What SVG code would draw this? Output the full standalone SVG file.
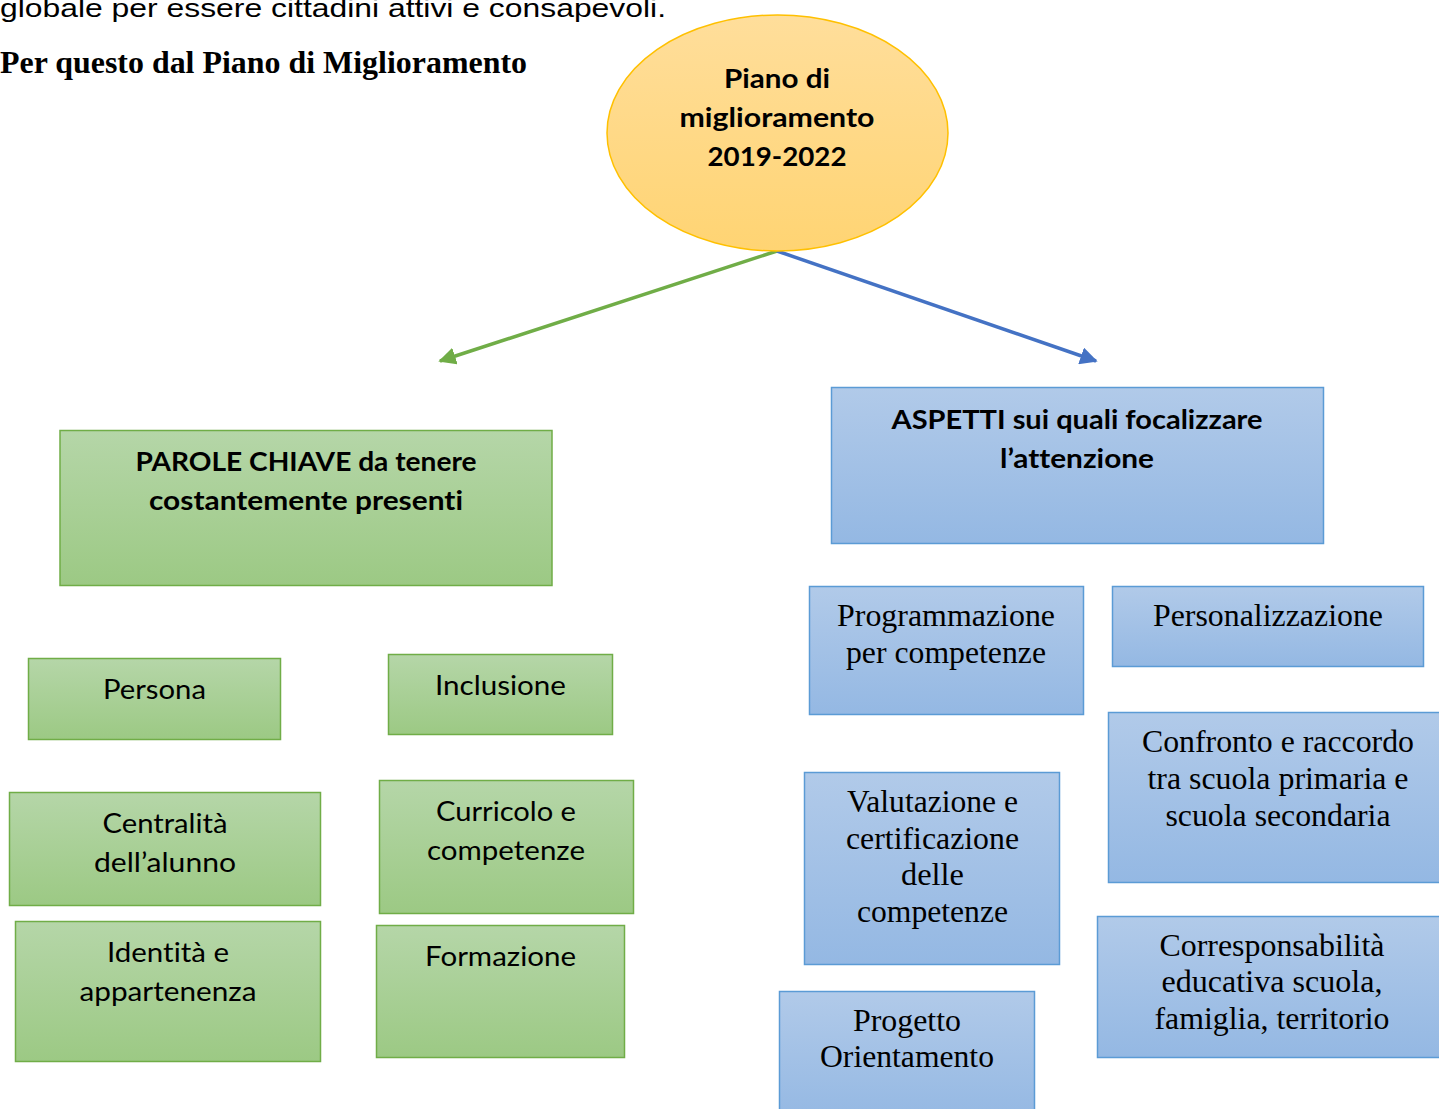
<svg xmlns="http://www.w3.org/2000/svg" width="1439" height="1109" viewBox="0 0 1439 1109">
<style>
.g{fill:url(#gg);stroke:#70AD47;stroke-width:1.5}
.b{fill:url(#bg);stroke:#5B9BD5;stroke-width:1.5}
.cal{font-family:Lato,"Open Sans","Liberation Sans",sans-serif;font-size:27px;fill:#000;text-anchor:middle;font-variant-ligatures:none}
.calb{font-family:Lato,"Open Sans","Liberation Sans",sans-serif;font-size:27px;font-weight:bold;fill:#000;text-anchor:middle;font-variant-ligatures:none}
.tnr{font-family:"Liberation Serif",serif;font-size:31px;fill:#000;text-anchor:middle}
</style>
<defs>
<linearGradient id="gg" x1="0" y1="0" x2="0" y2="1"><stop offset="0" stop-color="#B5D6A8"/><stop offset="1" stop-color="#9CC984"/></linearGradient>
<linearGradient id="bg" x1="0" y1="0" x2="0" y2="1"><stop offset="0" stop-color="#B1CAE9"/><stop offset="1" stop-color="#94B8E3"/></linearGradient>
<linearGradient id="yg" x1="0" y1="0" x2="0" y2="1"><stop offset="0" stop-color="#FFDE9B"/><stop offset="1" stop-color="#FFD473"/></linearGradient>
<marker id="ag" viewBox="0 0 10 10" refX="9" refY="5" markerWidth="5" markerHeight="5" orient="auto" markerUnits="strokeWidth"><path d="M0,0 L10,5 L0,10 z" fill="#70AD47"/></marker>
<marker id="ab" viewBox="0 0 10 10" refX="9" refY="5" markerWidth="5" markerHeight="5" orient="auto" markerUnits="strokeWidth"><path d="M0,0 L10,5 L0,10 z" fill="#4472C4"/></marker>
</defs>

<g id="header">
<text x="0" y="17" font-family="'Liberation Sans',Arial,sans-serif" font-size="26" textLength="666" lengthAdjust="spacingAndGlyphs">globale per essere cittadini attivi e consapevoli.</text>
<text x="0" y="73" font-family="'Liberation Serif',serif" font-size="31" font-weight="bold" textLength="527" lengthAdjust="spacingAndGlyphs">Per questo dal Piano di Miglioramento</text>
</g>

<g id="connectors" fill="none" stroke-width="3.5">
<line x1="777" y1="251" x2="440" y2="361" stroke="#70AD47" marker-end="url(#ag)"/>
<line x1="777" y1="251" x2="1096" y2="361" stroke="#4472C4" marker-end="url(#ab)"/>
</g>

<g id="piano">
<ellipse cx="777.5" cy="133" rx="170.5" ry="118" fill="url(#yg)" stroke="#FFC000" stroke-width="1.5"/>
<text class="calb" x="777" y="88" textLength="106" lengthAdjust="spacingAndGlyphs">Piano di</text>
<text class="calb" x="777" y="127" textLength="195" lengthAdjust="spacingAndGlyphs">miglioramento</text>
<text class="calb" x="777" y="166" textLength="139" lengthAdjust="spacingAndGlyphs">2019-2022</text>
</g>

<g id="parole">
<rect class="g" x="60" y="430.5" width="492" height="155"/>
<text class="calb" x="306" y="471" textLength="341" lengthAdjust="spacingAndGlyphs">PAROLE CHIAVE da tenere</text>
<text class="calb" x="306" y="510" textLength="314" lengthAdjust="spacingAndGlyphs">costantemente presenti</text>
</g>

<g id="aspetti">
<rect class="b" x="831.5" y="387.5" width="492" height="156"/>
<text class="calb" x="1077" y="429" textLength="371" lengthAdjust="spacingAndGlyphs">ASPETTI sui quali focalizzare</text>
<text class="calb" x="1077" y="468" textLength="154" lengthAdjust="spacingAndGlyphs">l’attenzione</text>
</g>

<g id="persona">
<rect class="g" x="28.5" y="658.5" width="252" height="81"/>
<text class="cal" x="154.5" y="699" textLength="103" lengthAdjust="spacingAndGlyphs">Persona</text>
</g>

<g id="inclusione">
<rect class="g" x="388.5" y="654.5" width="224" height="80"/>
<text class="cal" x="500.5" y="695" textLength="131" lengthAdjust="spacingAndGlyphs">Inclusione</text>
</g>

<g id="centralita">
<rect class="g" x="9.5" y="792.5" width="311" height="113"/>
<text class="cal" x="165" y="833" textLength="125" lengthAdjust="spacingAndGlyphs">Centralità</text>
<text class="cal" x="165" y="872" textLength="142" lengthAdjust="spacingAndGlyphs">dell’alunno</text>
</g>

<g id="curricolo">
<rect class="g" x="379.5" y="780.5" width="254" height="133"/>
<text class="cal" x="506" y="821" textLength="140" lengthAdjust="spacingAndGlyphs">Curricolo e</text>
<text class="cal" x="506" y="860" textLength="158" lengthAdjust="spacingAndGlyphs">competenze</text>
</g>

<g id="identita">
<rect class="g" x="15.5" y="921.5" width="305" height="140"/>
<text class="cal" x="168" y="962" textLength="122" lengthAdjust="spacingAndGlyphs">Identità e</text>
<text class="cal" x="168" y="1001" textLength="177" lengthAdjust="spacingAndGlyphs">appartenenza</text>
</g>

<g id="formazione">
<rect class="g" x="376.5" y="925.5" width="248" height="132"/>
<text class="cal" x="500.5" y="966" textLength="151" lengthAdjust="spacingAndGlyphs">Formazione</text>
</g>

<g id="programmazione">
<rect class="b" x="809.5" y="586.5" width="274" height="128"/>
<text class="tnr" x="946" y="626" textLength="218" lengthAdjust="spacingAndGlyphs">Programmazione</text>
<text class="tnr" x="946" y="663" textLength="200" lengthAdjust="spacingAndGlyphs">per competenze</text>
</g>

<g id="personalizzazione">
<rect class="b" x="1112.5" y="586.5" width="311" height="80"/>
<text class="tnr" x="1268" y="626" textLength="230" lengthAdjust="spacingAndGlyphs">Personalizzazione</text>
</g>

<g id="confronto">
<rect class="b" x="1108.5" y="712.5" width="340" height="170"/>
<text class="tnr" x="1278" y="752" textLength="272" lengthAdjust="spacingAndGlyphs">Confronto e raccordo</text>
<text class="tnr" x="1278" y="789" textLength="261" lengthAdjust="spacingAndGlyphs">tra scuola primaria e</text>
<text class="tnr" x="1278" y="826" textLength="225" lengthAdjust="spacingAndGlyphs">scuola secondaria</text>
</g>

<g id="valutazione">
<rect class="b" x="804.5" y="772.5" width="255" height="192"/>
<text class="tnr" x="932.5" y="812" textLength="171" lengthAdjust="spacingAndGlyphs">Valutazione e</text>
<text class="tnr" x="932.5" y="849" textLength="173" lengthAdjust="spacingAndGlyphs">certificazione</text>
<text class="tnr" x="932.5" y="885" textLength="63" lengthAdjust="spacingAndGlyphs">delle</text>
<text class="tnr" x="932.5" y="922" textLength="151" lengthAdjust="spacingAndGlyphs">competenze</text>
</g>

<g id="progetto">
<rect class="b" x="779.5" y="991.5" width="255" height="130"/>
<text class="tnr" x="907" y="1031" textLength="108" lengthAdjust="spacingAndGlyphs">Progetto</text>
<text class="tnr" x="907" y="1067" textLength="174" lengthAdjust="spacingAndGlyphs">Orientamento</text>
</g>

<g id="corresponsabilita">
<rect class="b" x="1097.5" y="916.5" width="350" height="141"/>
<text class="tnr" x="1272" y="956" textLength="225" lengthAdjust="spacingAndGlyphs">Corresponsabilità</text>
<text class="tnr" x="1272" y="992" textLength="221" lengthAdjust="spacingAndGlyphs">educativa scuola,</text>
<text class="tnr" x="1272" y="1029" textLength="235" lengthAdjust="spacingAndGlyphs">famiglia, territorio</text>
</g>
</svg>
